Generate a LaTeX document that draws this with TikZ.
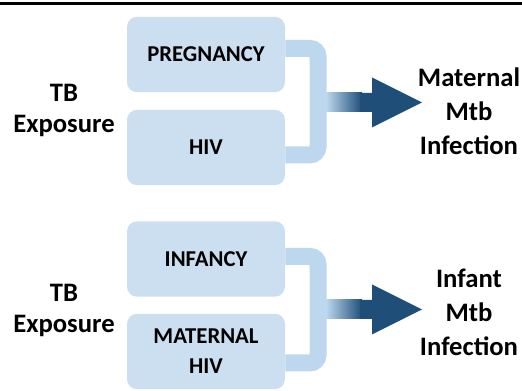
\documentclass[tikz,border=0pt]{standalone}
\usepackage{fontspec}
\setmainfont{Carlito}
\usetikzlibrary{calc}
\definecolor{boxblue}{RGB}{204,223,241}
\definecolor{linkblue}{RGB}{189,215,238}
\definecolor{headblue}{RGB}{31,78,121}

\begin{document}
\begin{tikzpicture}[x=0.75pt, y=-0.75pt,
    factor/.style={rectangle, fill=boxblue, rounded corners=7.5pt, minimum width=118.5pt, minimum height=56.5pt, inner sep=0pt, align=center, font=\fontsize{17}{22.5}\selectfont\bfseries},
    sidetext/.style={inner sep=0pt, align=center, font=\fontsize{20}{23.5}\selectfont\bfseries},
    outcome/.style={inner sep=0pt, align=center, font=\fontsize{20}{25.5}\selectfont\bfseries},
    bracket/.style={draw=linkblue, line width=12.75pt, rounded corners=6pt},
    shaft/.style={left color=linkblue, right color=headblue},
    head/.style={fill=headblue}]

    \useasboundingbox (0,0) rectangle (522,391);
    \draw[line width=2.6pt] (0,3.5) -- (522,3.5);

    % maternal infection
    \node[factor] (preg) at (206,54.5) {PREGNANCY};
    \node[factor] (hiv) at (206,147.5) {HIV};
    \node[sidetext] (tbm) at (64,110.5) {TB\\Exposure};
    \node[outcome] (mat) at (469,111) {Maternal\\Mtb\\Infection};
    \coordinate (jm) at (318,102.5);
    \coordinate (tipm) at (422,102.5);

    \draw[bracket] ([yshift=4.5pt]preg.east) -| (jm) |- ([yshift=-5.5pt]hiv.east);
    \shade[shaft] ($(jm)+(8,-9.5)$) rectangle ($(tipm)+(-60,9.5)$);
    \fill[head] ($(tipm)+(-62,-9.5)$) -- ($(tipm)+(-50,-9.5)$) -- ($(tipm)+(-50,-25)$) -- (tipm)
        -- ($(tipm)+(-50,25)$) -- ($(tipm)+(-50,9.5)$) -- ($(tipm)+(-62,9.5)$) -- cycle;

    % infant infection
    \node[factor] (inf) at (206,259) {INFANCY};
    \node[factor] (mhiv) at (206,351.5) {MATERNAL\\HIV};
    \node[sidetext] (tbi) at (64,310.5) {TB\\Exposure};
    \node[outcome] (infant) at (469,312) {Infant\\Mtb\\Infection};
    \coordinate (ji) at (318,309.5);
    \coordinate (tipi) at (422,309.5);

    \draw[bracket] ([yshift=1.9pt]inf.east) -| (ji) |- ([yshift=-8.6pt]mhiv.east);
    \shade[shaft] ($(ji)+(8,-9.5)$) rectangle ($(tipi)+(-60,9.5)$);
    \fill[head] ($(tipi)+(-62,-9.5)$) -- ($(tipi)+(-50,-9.5)$) -- ($(tipi)+(-50,-25)$) -- (tipi)
        -- ($(tipi)+(-50,25)$) -- ($(tipi)+(-50,9.5)$) -- ($(tipi)+(-62,9.5)$) -- cycle;
\end{tikzpicture}
\end{document}
